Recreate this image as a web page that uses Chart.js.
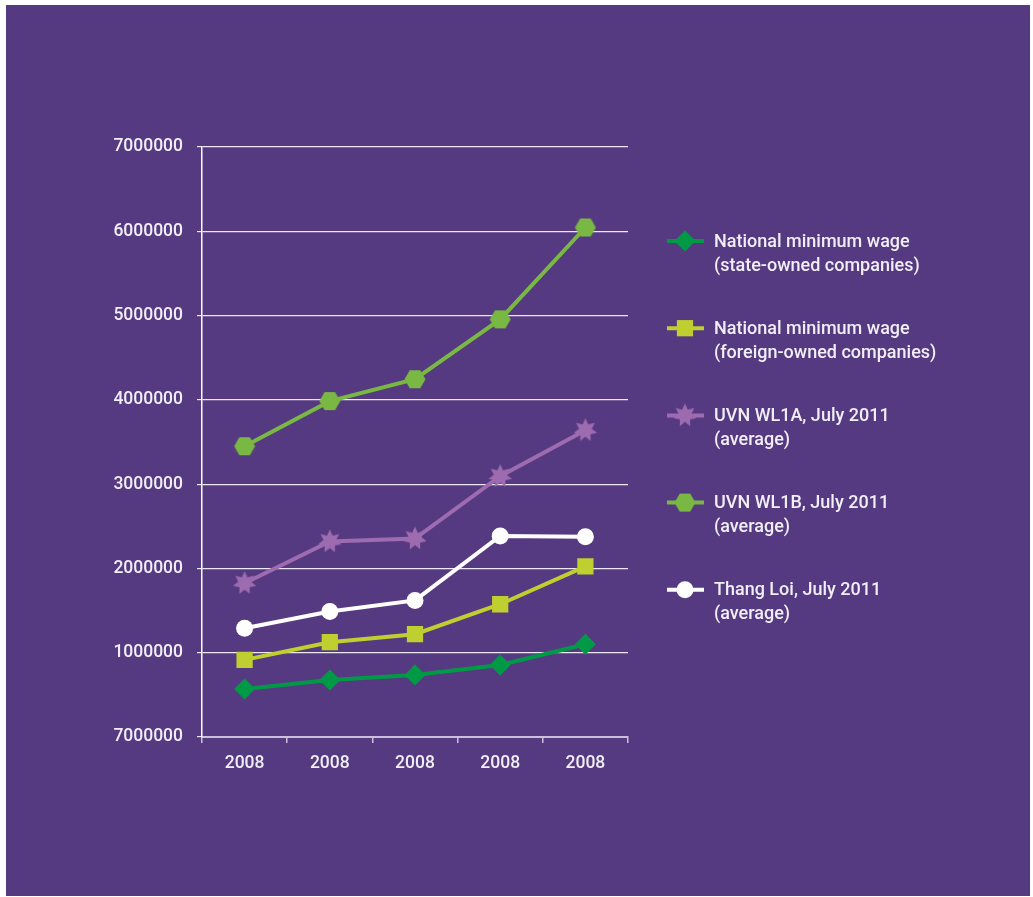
<!DOCTYPE html>
<html>
<head>
<meta charset="utf-8">
<script src="https://cdn.jsdelivr.net/npm/chart.js@4.4.1/dist/chart.umd.min.js"></script>
<style>
  html, body { margin: 0; padding: 0; background: #fff; }
  #wrap { position: relative; width: 1033px; height: 897px; }
</style>
</head>
<body>
<div id="wrap"><canvas id="line-chart"></canvas></div>
<script>
const years = ["2008", "2008", "2008", "2008", "2008"];
const yTickLabels = ["7000000", "1000000", "2000000", "3000000", "4000000", "5000000", "6000000", "7000000"];

const stateOwned = [570000, 675000, 735000, 855000, 1100000];
const foreignOwned = [915000, 1125000, 1220000, 1575000, 2025000];
const wl1a = [1825000, 2320000, 2355000, 3095000, 3640000];
const wl1b = [3450000, 3985000, 4245000, 4955000, 6045000];
const thangLoi = [1290000, 1490000, 1620000, 2385000, 2375000];

const seriesNames = [
  ["National minimum wage", "(state-owned companies)"],
  ["National minimum wage", "(foreign-owned companies)"],
  ["UVN WL1A, July 2011", "(average)"],
  ["UVN WL1B, July 2011", "(average)"],
  ["Thang Loi, July 2011", "(average)"],
];

const purple = "#563a81";
const textColor = "#f1eef6";
const fontFamily = "Roboto, 'DejaVu Sans'";

// filled star marker
function makeStar(color) {
  const c = document.createElement("canvas");
  c.width = 26; c.height = 26;
  const ctx = c.getContext("2d");
  ctx.fillStyle = color;
  ctx.beginPath();
  const n = 7;
  for (let i = 0; i < n * 2; i++) {
    const r = i % 2 === 0 ? 12 : 6.5;
    const a = -Math.PI / 2 + i * Math.PI / n;
    const x = 13 + r * Math.cos(a), y = 13 + r * Math.sin(a);
    if (i === 0) ctx.moveTo(x, y); else ctx.lineTo(x, y);
  }
  ctx.closePath();
  ctx.fill();
  return c;
}

// flat-topped hexagon marker
function makeHex(color) {
  const c = document.createElement("canvas");
  c.width = 22; c.height = 20;
  const ctx = c.getContext("2d");
  ctx.fillStyle = color;
  ctx.beginPath();
  for (let i = 0; i < 6; i++) {
    const a = i * Math.PI / 3;
    const x = 11 + 10.5 * Math.cos(a), y = 10 + 10.5 * Math.sin(a);
    if (i === 0) ctx.moveTo(x, y); else ctx.lineTo(x, y);
  }
  ctx.closePath();
  ctx.fill();
  return c;
}

const starImg = makeStar("#9d6bb0");
const hexImg = makeHex("#79b843");

const background = {
  id: "background",
  beforeDraw(chart) {
    const ctx = chart.ctx;
    ctx.save();
    ctx.fillStyle = "#ffffff";
    ctx.fillRect(0, 0, chart.width, chart.height);
    ctx.fillStyle = purple;
    ctx.fillRect(6, 5, 1024, 891);
    ctx.restore();
  },
};

const sideLegend = {
  id: "sideLegend",
  afterDraw(chart) {
    const ctx = chart.ctx;
    ctx.save();
    chart.data.datasets.forEach((ds, i) => {
      const y = 241 + i * 87.2;
      ctx.strokeStyle = ds.borderColor;
      ctx.lineWidth = 4;
      ctx.beginPath();
      ctx.moveTo(667, y);
      ctx.lineTo(704, y);
      ctx.stroke();
      ctx.fillStyle = ds.pointBackgroundColor;
      Chart.helpers.drawPoint(ctx, {
        pointStyle: ds.pointStyle,
        rotation: 0,
        radius: ds.pointRadius,
      }, 685, y);
      ctx.fillStyle = textColor;
      ctx.font = "500 18px " + fontFamily;
      ctx.textBaseline = "middle";
      ctx.fillText(seriesNames[i][0], 714, y + 1);
      ctx.fillText(seriesNames[i][1], 714, y + 25);
    });
    ctx.restore();
  },
};

function series(name, data, color, style, radius) {
  return {
    label: name,
    data: data,
    borderColor: color,
    backgroundColor: color,
    pointBackgroundColor: color,
    pointBorderWidth: 0,
    pointStyle: style,
    pointRadius: radius,
    pointHoverRadius: radius,
    borderWidth: 4,
    tension: 0,
  };
}

new Chart(document.getElementById("line-chart"), {
  type: "line",
  data: {
    labels: years,
    datasets: [
      series(seriesNames[0].join(" "), stateOwned, "#009a46", "rectRot", 10.5),
      series(seriesNames[1].join(" "), foreignOwned, "#c0cf30", "rect", 11.5),
      series(seriesNames[2].join(" "), wl1a, "#9d6bb0", starImg, 12),
      series(seriesNames[3].join(" "), wl1b, "#79b843", hexImg, 10),
      series(seriesNames[4].join(" "), thangLoi, "#ffffff", "circle", 8.5),
    ],
  },
  options: {
    responsive: true,
    maintainAspectRatio: false,
    animation: false,
    layout: { padding: { left: 0, right: 405, top: 147, bottom: 120 } },
    plugins: {
      legend: { display: false },
      tooltip: { enabled: false },
    },
    scales: {
      x: {
        offset: true,
        afterFit(scale) { scale.height = 40; },
        grid: {
          offset: true,
          drawOnChartArea: false,
          color: "#cbc0dc",
          tickLength: 6,
          lineWidth: 1.5,
        },
        border: { color: "#cbc0dc", width: 2 },
        ticks: {
          color: textColor,
          font: { family: fontFamily, size: 17.5, weight: "500" },
          padding: 10,
        },
      },
      y: {
        min: 0,
        max: 7000000,
        afterFit(scale) { scale.width = 202; },
        grid: { color: "#ece8f2", lineWidth: 1.2, tickLength: 5 },
        border: { color: "#ffffff", width: 1.5 },
        ticks: {
          stepSize: 1000000,
          color: textColor,
          font: { family: fontFamily, size: 17.5, weight: "500" },
          padding: 14,
          callback: (value, index) => yTickLabels[index],
        },
      },
    },
  },
  plugins: [background, sideLegend],
});
</script>
</body>
</html>
